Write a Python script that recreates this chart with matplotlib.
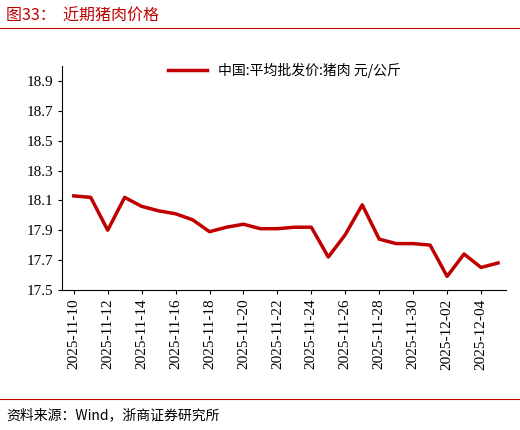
import matplotlib
matplotlib.use("Agg")
import matplotlib.pyplot as plt
import matplotlib.dates as mdates
import pandas as pd
from matplotlib.lines import Line2D

dates = pd.date_range("2025-11-10", "2025-12-05", freq="D")
values = [18.13, 18.12, 17.90, 18.12, 18.06, 18.03, 18.01, 17.97, 17.89, 17.92,
          17.94, 17.91, 17.91, 17.92, 17.92, 17.72, 17.87, 18.07, 17.84, 17.81,
          17.81, 17.80, 17.59, 17.74, 17.65, 17.68]
series_name = "中国:平均批发价:猪肉 元/公斤"
yticks = [17.5, 17.7, 17.9, 18.1, 18.3, 18.5, 18.7, 18.9]

cjk = ["Noto Sans CJK SC", "DejaVu Sans"]
serif = ["Liberation Serif"]
red = "#C00000"

fig = plt.figure(figsize=(5.2, 4.3), dpi=100)
ax = fig.add_axes([0.119, 0.326, 0.855, 0.52])
ax.plot(dates, values, color=red, lw=2.5, solid_joinstyle="round")
ax.set_ylim(17.5, 19.0)
ax.set_yticks(yticks)
ax.set_xlim(dates[0] - pd.Timedelta(days=0.7), dates[-1] + pd.Timedelta(days=0.5))
ax.set_xticks(dates[::2])
ax.xaxis.set_major_formatter(mdates.DateFormatter("%Y-%m-%d"))
for lab in ax.get_xticklabels():
    lab.set_rotation(90); lab.set_fontfamily(serif); lab.set_fontsize(11)
for lab in ax.get_yticklabels():
    lab.set_fontfamily(serif); lab.set_fontsize(11)
ax.spines["top"].set_visible(False)
ax.spines["right"].set_visible(False)
ax.tick_params(direction="out", length=3)
leg = ax.legend([Line2D([], [], color=red, lw=2.5)], [series_name], loc="upper center",
                bbox_to_anchor=(0.5, 1.07), frameon=False, prop={"family": cjk, "size": 10},
                handlelength=2.8)

fig.text(0.012, 0.962, "图33：  近期猪肉价格", color=red, fontsize=11.5, family=cjk, va="center")
fig.add_artist(Line2D([0.0, 1.0], [0.935, 0.935], color=red, lw=0.8))
fig.add_artist(Line2D([0.0, 1.0], [0.073, 0.073], color=red, lw=0.8))
fig.text(0.012, 0.035, "资料来源：Wind，浙商证券研究所", fontsize=10, family=cjk, va="center")
fig.savefig("out.png", dpi=100)
